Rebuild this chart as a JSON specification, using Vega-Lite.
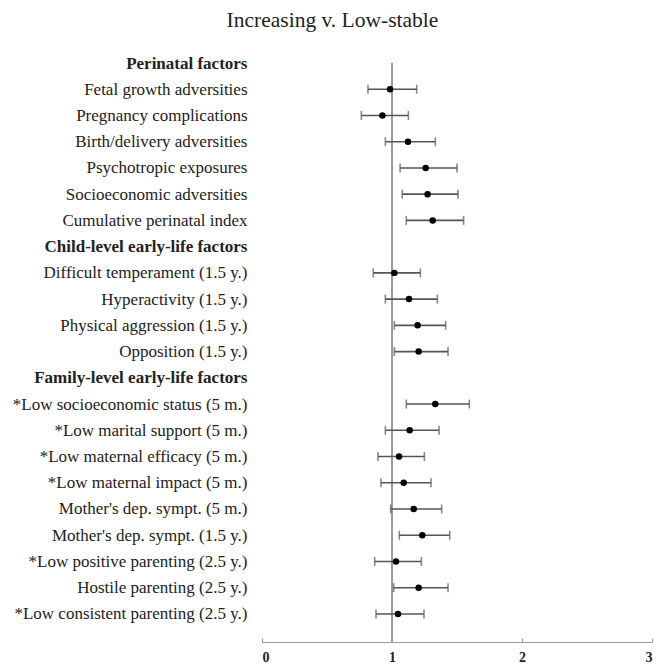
{
  "$schema": "https://vega.github.io/schema/vega-lite/v6.json",
  "width": 390,
  "height": 579,
  "autosize": {"type": "none"},
  "padding": {"left": 262, "top": 63, "right": 17, "bottom": 23},
  "background": "white",
  "title": {
    "text": "Increasing v. Low-stable",
    "font": "Liberation Serif",
    "fontSize": 21.5,
    "fontWeight": "normal",
    "color": "#222",
    "anchor": "middle",
    "frame": "bounds",
    "offset": 23
  },
  "config": {
    "view": {"stroke": null},
    "axis": {"grid": false}
  },
  "data": {
    "values": [
      {"label": "Perinatal factors", "est": null, "lo": null, "hi": null},
      {"label": "Fetal growth adversities", "est": 0.985, "lo": 0.815, "hi": 1.19},
      {"label": "Pregnancy complications", "est": 0.926, "lo": 0.764, "hi": 1.126},
      {"label": "Birth/delivery adversities", "est": 1.123, "lo": 0.949, "hi": 1.333},
      {"label": "Psychotropic exposures", "est": 1.259, "lo": 1.062, "hi": 1.5},
      {"label": "Socioeconomic adversities", "est": 1.274, "lo": 1.079, "hi": 1.508},
      {"label": "Cumulative perinatal index", "est": 1.313, "lo": 1.11, "hi": 1.551},
      {"label": "Child-level early-life factors", "est": null, "lo": null, "hi": null},
      {"label": "Difficult temperament (1.5 y.)", "est": 1.018, "lo": 0.856, "hi": 1.218},
      {"label": "Hyperactivity (1.5 y.)", "est": 1.131, "lo": 0.949, "hi": 1.349},
      {"label": "Physical aggression (1.5 y.)", "est": 1.197, "lo": 1.018, "hi": 1.413},
      {"label": "Opposition (1.5 y.)", "est": 1.205, "lo": 1.018, "hi": 1.431},
      {"label": "Family-level early-life factors", "est": null, "lo": null, "hi": null},
      {"label": "*Low socioeconomic status (5 m.)", "est": 1.333, "lo": 1.11, "hi": 1.595},
      {"label": "*Low marital support (5 m.)", "est": 1.136, "lo": 0.949, "hi": 1.362},
      {"label": "*Low maternal efficacy (5 m.)", "est": 1.054, "lo": 0.892, "hi": 1.249},
      {"label": "*Low maternal impact (5 m.)", "est": 1.09, "lo": 0.915, "hi": 1.3},
      {"label": "Mother's dep. sympt. (5 m.)", "est": 1.167, "lo": 0.99, "hi": 1.382},
      {"label": "Mother's dep. sympt. (1.5 y.)", "est": 1.233, "lo": 1.056, "hi": 1.444},
      {"label": "*Low positive parenting (2.5 y.)", "est": 1.031, "lo": 0.867, "hi": 1.226},
      {"label": "Hostile parenting (2.5 y.)", "est": 1.205, "lo": 1.013, "hi": 1.431},
      {"label": "*Low consistent parenting (2.5 y.)", "est": 1.046, "lo": 0.877, "hi": 1.246}
    ]
  },
  "layer": [
    {
      "mark": {"type": "rule", "color": "#9a9a9a", "strokeWidth": 1.2},
      "encoding": {
        "x": {
          "datum": 1,
          "type": "quantitative",
          "scale": {"domain": [0, 3], "nice": false, "zero": true},
          "axis": {
            "values": [0, 1, 2, 3],
            "format": "d",
            "title": null,
            "domainColor": "#9a9a9a",
            "domainWidth": 1.2,
            "tickColor": "#9a9a9a",
            "tickWidth": 1.2,
            "tickSize": -4,
            "labelPadding": 12,
            "labelFont": "Liberation Serif",
            "labelFontSize": 14,
            "labelFontWeight": "bold",
            "labelColor": "#222"
          }
        }
      }
    },
    {
      "mark": {"type": "text", "opacity": 0},
      "encoding": {
        "y": {
          "field": "label",
          "type": "nominal",
          "scale": {
            "type": "point",
            "padding": 0.535,
            "align": 0,
            "domain": [
              "Perinatal factors",
              "Fetal growth adversities",
              "Pregnancy complications",
              "Birth/delivery adversities",
              "Psychotropic exposures",
              "Socioeconomic adversities",
              "Cumulative perinatal index",
              "Child-level early-life factors",
              "Difficult temperament (1.5 y.)",
              "Hyperactivity (1.5 y.)",
              "Physical aggression (1.5 y.)",
              "Opposition (1.5 y.)",
              "Family-level early-life factors",
              "*Low socioeconomic status (5 m.)",
              "*Low marital support (5 m.)",
              "*Low maternal efficacy (5 m.)",
              "*Low maternal impact (5 m.)",
              "Mother's dep. sympt. (5 m.)",
              "Mother's dep. sympt. (1.5 y.)",
              "*Low positive parenting (2.5 y.)",
              "Hostile parenting (2.5 y.)",
              "*Low consistent parenting (2.5 y.)"
            ]
          },
          "axis": {
            "title": null,
            "domain": false,
            "ticks": false,
            "labelPadding": 15,
            "labelLimit": 400,
            "labelFont": "Liberation Serif",
            "labelFontSize": 17,
            "labelColor": "#222",
            "labelFontWeight": {
              "condition": {
                "test": "indexof(['Perinatal factors','Child-level early-life factors','Family-level early-life factors'], datum.value) >= 0",
                "value": "bold"
              },
              "value": "normal"
            }
          }
        },
        "x": {"datum": 1, "type": "quantitative"},
        "text": {"value": ""}
      }
    },
    {
      "transform": [{"filter": "datum.est != null"}],
      "mark": {"type": "rule", "color": "#555", "strokeWidth": 1.6},
      "encoding": {
        "y": {"field": "label", "type": "nominal"},
        "x": {"field": "lo", "type": "quantitative"},
        "x2": {"field": "hi"}
      }
    },
    {
      "transform": [{"filter": "datum.est != null"}],
      "mark": {"type": "tick", "color": "#555", "thickness": 1.6, "size": 9},
      "encoding": {
        "y": {"field": "label", "type": "nominal"},
        "x": {"field": "lo", "type": "quantitative"}
      }
    },
    {
      "transform": [{"filter": "datum.est != null"}],
      "mark": {"type": "tick", "color": "#555", "thickness": 1.6, "size": 9},
      "encoding": {
        "y": {"field": "label", "type": "nominal"},
        "x": {"field": "hi", "type": "quantitative"}
      }
    },
    {
      "transform": [{"filter": "datum.est != null"}],
      "mark": {"type": "point", "filled": true, "color": "#000", "opacity": 1, "size": 42},
      "encoding": {
        "y": {"field": "label", "type": "nominal"},
        "x": {"field": "est", "type": "quantitative"}
      }
    }
  ]
}
